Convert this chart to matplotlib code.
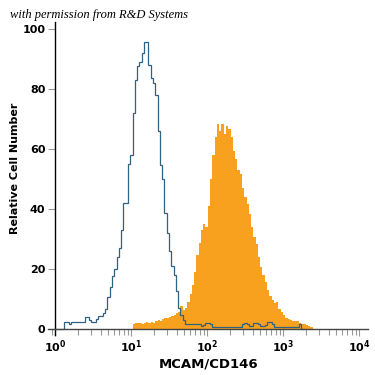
import numpy as np
import matplotlib
matplotlib.use("Agg")
import matplotlib.pyplot as plt

# histogram channels, in decades (log10 of intensity)
bin_width = 0.03
isotype_start = 0.0
isotype_counts = [
    0, 0, 0, 0, 2.2, 2.2, 1.7, 2.2, 2.2, 2.2, 2.2, 2.2, 2.2, 4, 4, 3, 2.2, 2.2,
    3.3, 4.3, 4.3, 5.2, 6.6, 10.7, 14, 17.5, 20, 24, 27, 33, 42, 42, 55, 58,
    72, 83, 87.5, 89, 92, 95.5, 95.5, 88, 83.5, 82, 78, 66, 54.5, 50, 38.5, 32,
    26, 21, 18, 12.5, 7, 4.5, 3, 1.5, 1.5, 1.5, 1.5, 1.5, 1.5, 1.5, 0.9, 1.2,
    2, 2, 1.5, 0.7, 0.7, 0.7, 0.7, 0.7, 0.7, 0.7, 0.7, 0.7, 0.7, 0.7, 0.7,
    0.7, 1.5, 2, 1.5, 1.1, 1.1, 2, 2, 1.5, 0.9, 0.9, 1.2, 2.2, 2.2, 1.5, 0.8,
    0.8, 0.8, 0.8, 0.8, 0.8, 0.8, 0.8, 0.8, 0.8, 0.8, 1.7, 0,
]
mcam_start = 1.02
mcam_counts = [
    1.8, 2.0, 1.9, 2.1, 1.8, 2.0, 2.2, 2.0, 2.3, 2.1, 2.6, 2.9, 2.7, 3.4, 3.7,
    3.5, 4.0, 4.3, 4.6, 5.2, 5.6, 7.8, 6.2, 7.0, 9.0, 11.5, 14.5, 19, 24.5,
    28.5, 33, 35, 34, 41, 50, 58, 64, 68.3, 66, 68.3, 65, 67.8, 66.7, 63.9,
    59.4, 56.7, 53, 51.7, 47, 44, 41.7, 38.3, 34, 30.5, 28.3, 24, 20.6, 18,
    15.5, 13, 11, 9.5, 8.5, 9.0, 6.5, 5.5, 4.8, 3.8, 3.3, 3.0, 2.8, 2.6, 2.7,
    2.0, 1.7, 1.5, 1.3, 1.0, 0.7,
]
y_ticks = [0, 20, 40, 60, 80, 100]
x_ticks = [1, 10, 100, 1000, 10000]
x_labels = [r'$\mathbf{10^{0}}$', r'$\mathbf{10^{1}}$', r'$\mathbf{10^{2}}$',
            r'$\mathbf{10^{3}}$', r'$\mathbf{10^{4}}$']

iso_edges = 10 ** (isotype_start + bin_width * np.arange(len(isotype_counts) + 1))
mcam_edges = 10 ** (mcam_start + bin_width * np.arange(len(mcam_counts) + 1))

fig = plt.figure(figsize=(3.75, 3.75), dpi=100)
ax = fig.add_axes([0.128, 0.1067, 0.8533, 0.8347])

ax.stairs(mcam_counts, mcam_edges, fill=True, color='#f8a11e', zorder=2)
ax.stairs(isotype_counts, iso_edges, color='#2f6282', linewidth=0.9, zorder=3)

ax.set_xscale('log')
ax.set_xlim(10 ** -0.092, 10 ** 4.118)
ax.set_ylim(-2, 102.3)

for s in ['top', 'right']:
    ax.spines[s].set_visible(False)
ax.spines['left'].set_position(('data', 1))
ax.spines['left'].set_color('black')
ax.spines['left'].set_linewidth(1.0)
ax.spines['bottom'].set_position(('data', 0))
ax.spines['bottom'].set_color('#444444')
ax.spines['bottom'].set_linewidth(1.0)
ax.spines['bottom'].set_zorder(4)

ax.set_yticks(y_ticks)
ax.set_yticklabels([str(v) for v in y_ticks], fontweight='bold', fontsize=8)
ax.set_xticks(x_ticks)
ax.set_xticklabels(x_labels, fontsize=8)
ax.tick_params(axis='y', colors='#999999', labelcolor='black', length=5, width=0.8, pad=2)
ax.tick_params(axis='x', which='major', colors='#999999', labelcolor='black',
               length=5, width=0.8, pad=2)
ax.tick_params(axis='x', which='minor', colors='#999999', length=4, width=0.8)

fig.text(0.555, 0.029, 'MCAM/CD146', fontweight='bold', fontsize=9.5,
         ha='center', va='center')
fig.text(0.04, 0.55, 'Relative Cell Number', rotation=90, fontweight='bold',
         fontsize=8, ha='center', va='center')
fig.text(0.027, 0.96, 'with permission from R&D Systems', fontstyle='italic',
         family='Liberation Serif', fontsize=9, ha='left', va='center')

fig.savefig('out.png', dpi=100)
